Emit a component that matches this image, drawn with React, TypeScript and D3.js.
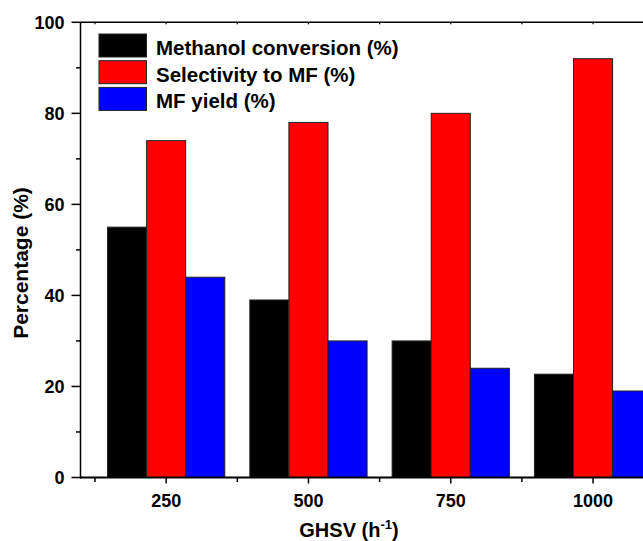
import * as React from "react";
import * as d3 from "d3";

const categories = ["250", "500", "750", "1000"];
const seriesNames = ["Methanol conversion (%)", "Selectivity to MF (%)", "MF yield (%)"];
const conversion = [55, 39, 30, 22.7];
const selectivity = [74, 78, 80, 92];
const yieldMF = [44, 30, 24, 19];
const seriesColors = ["#000000", "#ff0000", "#0000ff"];
const yTicks = [0, 20, 40, 60, 80, 100];
const yMinorTicks = [10, 30, 50, 70, 90];

const width = 643;
const height = 541;
const left = 80.5;
const top = 22.3;
const bottom = 477.5;
const plotRight = 680;
const font = "Liberation Sans, Arial, sans-serif";

export default function App() {
  React.useEffect(() => {
    document.body.style.margin = "0";
  }, []);

  const values = [conversion, selectivity, yieldMF];

  const x0 = d3
    .scaleBand<string>()
    .domain(categories)
    .range([95, 95 + 4 * 142.3])
    .paddingInner(0.176)
    .paddingOuter(0.088);

  const x1 = d3
    .scaleBand<number>()
    .domain([0, 1, 2])
    .range([0, x0.bandwidth()]);

  const y = d3.scaleLinear().domain([0, 100]).range([bottom, top]);

  const step = x0.step();
  const centers = categories.map((c) => x0(c)! + x0.bandwidth() / 2);
  const bounds = d3.range(5).map((i) => 95 + i * step);

  return (
    <svg width={width} height={height} style={{ display: "block", background: "#fff" }}>
      {/* bars */}
      {categories.map((c, i) => (
        <g key={c} transform={`translate(${x0(c)},0)`}>
          {values.map((vals, s) => (
            <rect
              key={s}
              x={x1(s)}
              y={y(vals[i])}
              width={x1.bandwidth()}
              height={y(0) - y(vals[i])}
              fill={seriesColors[s]}
              stroke="#222"
              strokeWidth={1}
            />
          ))}
        </g>
      ))}

      {/* top frame line */}
      <line x1={left} x2={plotRight} y1={top} y2={top} stroke="#000" strokeWidth={1.5} />
      {centers.concat(bounds).map((t, i) => (
        <line key={"tt" + i} x1={t} x2={t} y1={top} y2={top + 2} stroke="#000" strokeWidth={1.2} />
      ))}

      {/* y axis */}
      <line x1={left} x2={left} y1={top} y2={bottom + 1} stroke="#000" strokeWidth={1.5} />
      {yTicks.map((t) => (
        <g key={t}>
          <line x1={left - 9} x2={left} y1={y(t)} y2={y(t)} stroke="#000" strokeWidth={1.5} />
          <text
            x={left - 16}
            y={y(t)}
            dy="0.36em"
            textAnchor="end"
            fontFamily={font}
            fontWeight="bold"
            fontSize={18}
          >
            {t}
          </text>
        </g>
      ))}
      {yMinorTicks.map((t) => (
        <line key={t} x1={left - 4.5} x2={left} y1={y(t)} y2={y(t)} stroke="#000" strokeWidth={1.5} />
      ))}

      {/* x axis */}
      <line x1={left - 0.75} x2={plotRight} y1={bottom} y2={bottom} stroke="#000" strokeWidth={2} />
      {centers.map((cx, i) => (
        <g key={categories[i]}>
          <line x1={cx} x2={cx} y1={bottom} y2={bottom + 6} stroke="#000" strokeWidth={1.5} />
          <text
            x={cx}
            y={507}
            textAnchor="middle"
            fontFamily={font}
            fontWeight="bold"
            fontSize={18}
          >
            {categories[i]}
          </text>
        </g>
      ))}
      {bounds.map((bx, i) => (
        <line key={"b" + i} x1={bx} x2={bx} y1={bottom} y2={bottom + 4.5} stroke="#000" strokeWidth={1.5} />
      ))}

      {/* axis titles */}
      <text x={349} y={537} textAnchor="middle" fontFamily={font} fontWeight="bold" fontSize={20}>
        GHSV (h
        <tspan fontSize={13} dy={-8}>
          -1
        </tspan>
        <tspan dy={8}>)</tspan>
      </text>
      <text
        transform={`translate(28,263) rotate(-90)`}
        textAnchor="middle"
        fontFamily={font}
        fontWeight="bold"
        fontSize={21}
      >
        Percentage (%)
      </text>

      {/* legend */}
      {seriesNames.map((name, i) => {
        const ry = 34 + i * 26.7;
        return (
          <g key={name}>
            <rect x={99} y={ry} width={47.5} height={23} fill={seriesColors[i]} stroke="#222" strokeWidth={1} />
            <text x={156} y={ry + 21} fontFamily={font} fontWeight="bold" fontSize={20.5}>
              {name}
            </text>
          </g>
        );
      })}
    </svg>
  );
}
